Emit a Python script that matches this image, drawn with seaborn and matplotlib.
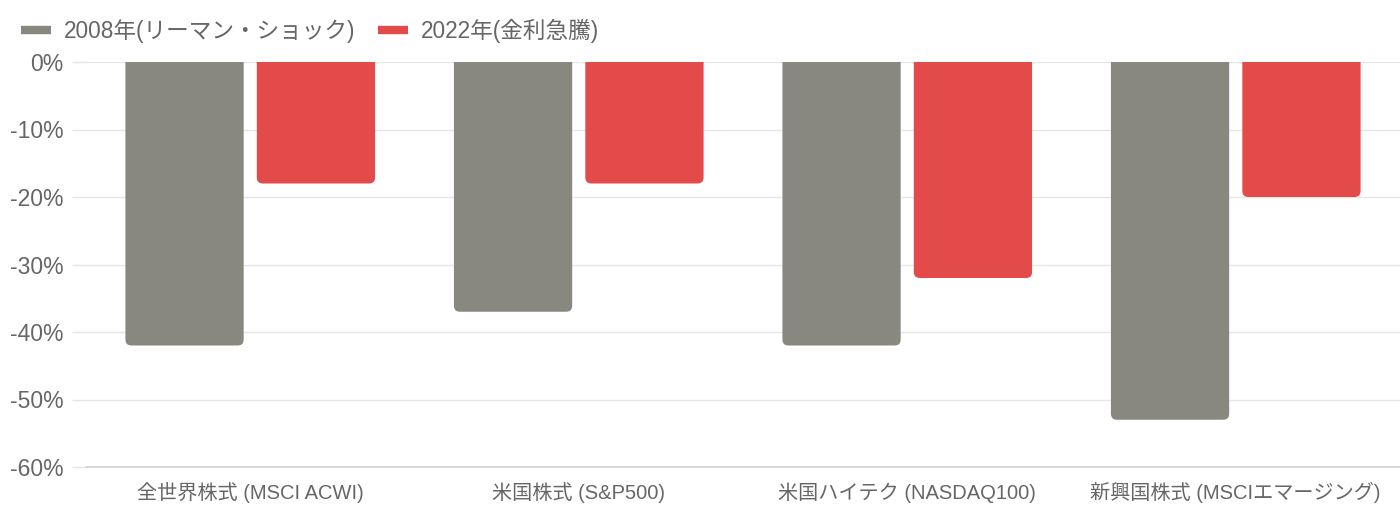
import matplotlib
matplotlib.use("Agg")
import matplotlib.pyplot as plt
import seaborn as sns
import pandas as pd
from matplotlib.patches import FancyBboxPatch
from matplotlib.lines import Line2D
from matplotlib.ticker import FuncFormatter, MultipleLocator

categories = ["全世界株式 (MSCI ACWI)", "米国株式 (S&P500)", "米国ハイテク (NASDAQ100)", "新興国株式 (MSCIエマージング)"]
series_names = ["2008年(リーマン・ショック)", "2022年(金利急騰)"]
values_2008 = [-42, -37, -42, -53]
values_2022 = [-18, -18, -32, -20]
colors = ["#898880", "#E34A4A"]

df = pd.DataFrame({
    "cat": categories * 2,
    "series": [series_names[0]] * 4 + [series_names[1]] * 4,
    "val": values_2008 + values_2022,
})

sns.set_theme(style="white")
plt.rcParams["font.family"] = ["Liberation Sans", "Noto Sans CJK JP", "DejaVu Sans"]
text_color = "#666666"

fig = plt.figure(figsize=(14, 5.2), dpi=100)
ax = fig.add_axes([86 / 1400, 1 - 467 / 520, 1 - 86 / 1400, (467 - 62) / 520])

sns.barplot(data=df, x="cat", y="val", hue="series", palette=colors,
            width=0.8, gap=0.1, ax=ax, legend=False, saturation=1)

ax.set_ylim(-60, 0)
ax.set_xlim(-0.5, 3.5)
ax.yaxis.set_major_locator(MultipleLocator(10))
ax.yaxis.set_major_formatter(FuncFormatter(lambda v, p: f"{int(round(v))}%"))
ax.set_xlabel("")
ax.set_ylabel("")

# rounded bottom corners
fig.canvas.draw()
px_per_x = ax.transData.transform((1, 0))[0] - ax.transData.transform((0, 0))[0]
px_per_y = abs(ax.transData.transform((0, 1))[1] - ax.transData.transform((0, 0))[1])
r_px = 6
rx = r_px / px_per_x
aspect = (r_px / px_per_y) / rx
bars = list(ax.patches)
for p in bars:
    x, w, h = p.get_x(), p.get_width(), p.get_height()
    fc = p.get_facecolor()
    p.remove()
    top = 0 + r_px / px_per_y * 2
    fb = FancyBboxPatch((x, h), w, top - h,
                        boxstyle=f"round,pad=0,rounding_size={rx}",
                        mutation_aspect=aspect, facecolor=fc, edgecolor="none",
                        zorder=2, clip_on=True)
    ax.add_patch(fb)
    fb.set_clip_path(ax.patch)

ax.grid(axis="y", color="#e6e6e6", linewidth=1)
ax.grid(axis="x", visible=False)
ax.set_axisbelow(True)
for s in ["top", "right", "left"]:
    ax.spines[s].set_visible(False)
ax.spines["bottom"].set_color("#d0d0d0")
ax.spines["bottom"].set_linewidth(1.2)

ax.tick_params(axis="y", length=10, color="#e6e6e6", width=1, pad=6,
               labelsize=16.5, labelcolor=text_color, left=True)
ax.tick_params(axis="x", length=0, pad=11, labelsize=14.5, labelcolor=text_color)

handles = [Line2D([0], [0], color=c, lw=6, solid_capstyle="butt") for c in colors]
fig.legend(handles, series_names, loc="center left",
           bbox_to_anchor=(12 / 1400, 1 - 31 / 520), ncol=2, frameon=False,
           fontsize=16.3, labelcolor=text_color, handlelength=1.33,
           handletextpad=0.57, columnspacing=0.97, borderaxespad=0)

fig.savefig("out.png", dpi=100, facecolor="white")
